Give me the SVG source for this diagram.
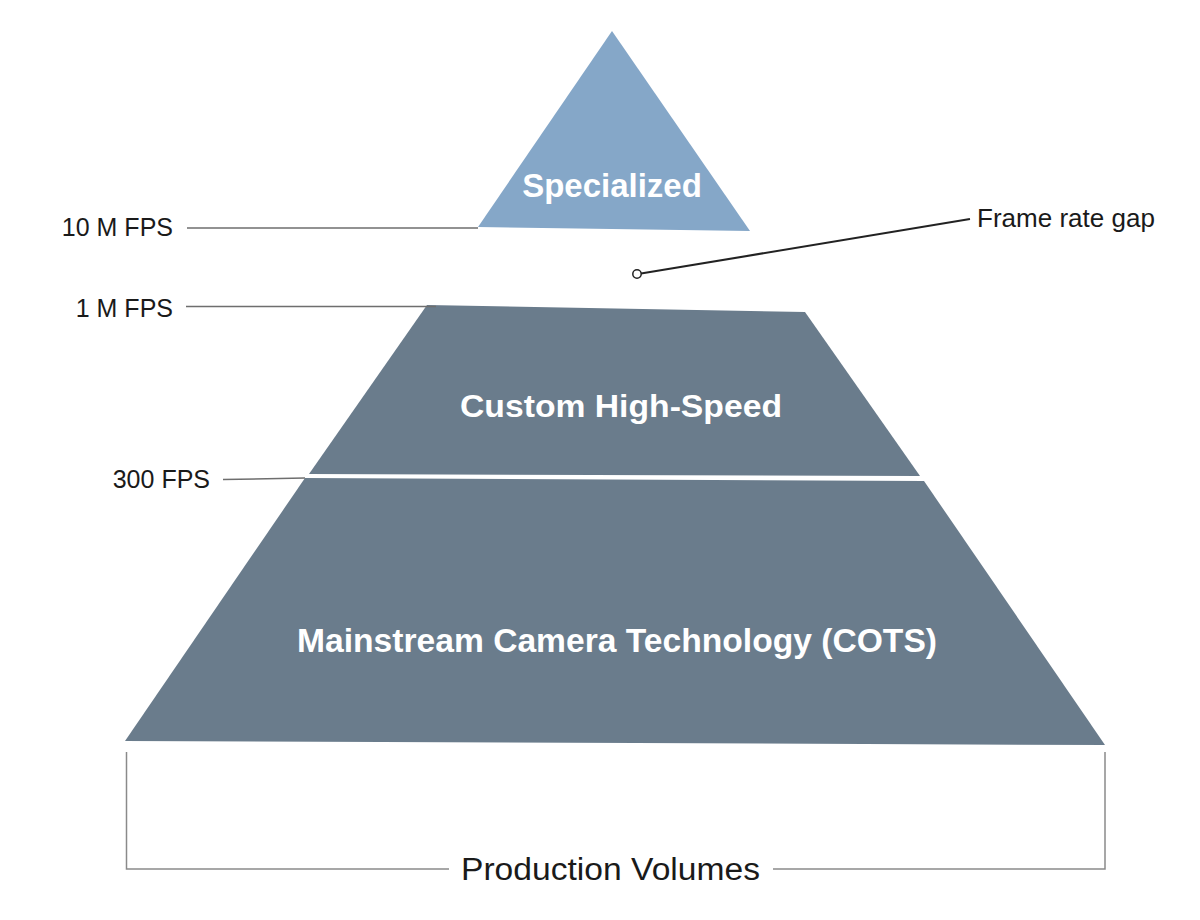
<svg xmlns="http://www.w3.org/2000/svg" width="1200" height="920" viewBox="0 0 1200 920">
<style>
.lbl{font-family:"Liberation Sans",Arial,sans-serif;font-size:25px;fill:#1a1a1a}
.big{font-family:"Liberation Sans",Arial,sans-serif;font-weight:bold;fill:#ffffff;text-anchor:middle}
.lvl{stroke:#6e6e6e;stroke-width:1.5;fill:none}
.br{stroke:#8a8a8a;stroke-width:1.5;fill:none}
</style>
<rect width="1200" height="920" fill="#ffffff"/>
<g id="specialized">
<polygon points="612,31 478,227 750,231" fill="#85a7c8"/>
<text class="big" x="612" y="197" font-size="33">Specialized</text>
</g>
<g id="custom-high-speed">
<polygon points="427,305 805,312 920,476 309,474" fill="#6a7c8c"/>
<text class="big" x="621" y="417" font-size="31" textLength="322" lengthAdjust="spacingAndGlyphs">Custom High-Speed</text>
</g>
<g id="mainstream">
<polygon points="305,478 924,481 1105,745 125,741" fill="#6a7c8c"/>
<text class="big" x="617" y="652" font-size="33.5" textLength="640" lengthAdjust="spacingAndGlyphs">Mainstream Camera Technology (COTS)</text>
</g>
<g id="connectors">
<line class="lvl" x1="187" y1="228" x2="478" y2="228"/>
<line class="lvl" x1="186" y1="306.5" x2="436" y2="306.5"/>
<line class="lvl" x1="223" y1="479.5" x2="305" y2="478"/>
<line x1="641" y1="273.5" x2="970" y2="219" stroke="#222" stroke-width="2"/>
<circle cx="637" cy="274" r="4.2" fill="#ffffff" stroke="#222" stroke-width="1.5"/>
<polyline class="br" points="449,869 126.5,869 126.5,752"/>
<polyline class="br" points="773,869 1105,869 1105,752"/>
</g>
<g id="labels">
<text class="lbl" x="173" y="236" text-anchor="end">10 M FPS</text>
<text class="lbl" x="173" y="317" text-anchor="end">1 M FPS</text>
<text class="lbl" x="210" y="488" text-anchor="end">300 FPS</text>
<text class="lbl" x="977" y="227" textLength="178" lengthAdjust="spacingAndGlyphs">Frame rate gap</text>
<text class="lbl" x="610.5" y="880" text-anchor="middle" font-size="31" textLength="299" lengthAdjust="spacingAndGlyphs" style="font-size:31px">Production Volumes</text>
</g>
</svg>
